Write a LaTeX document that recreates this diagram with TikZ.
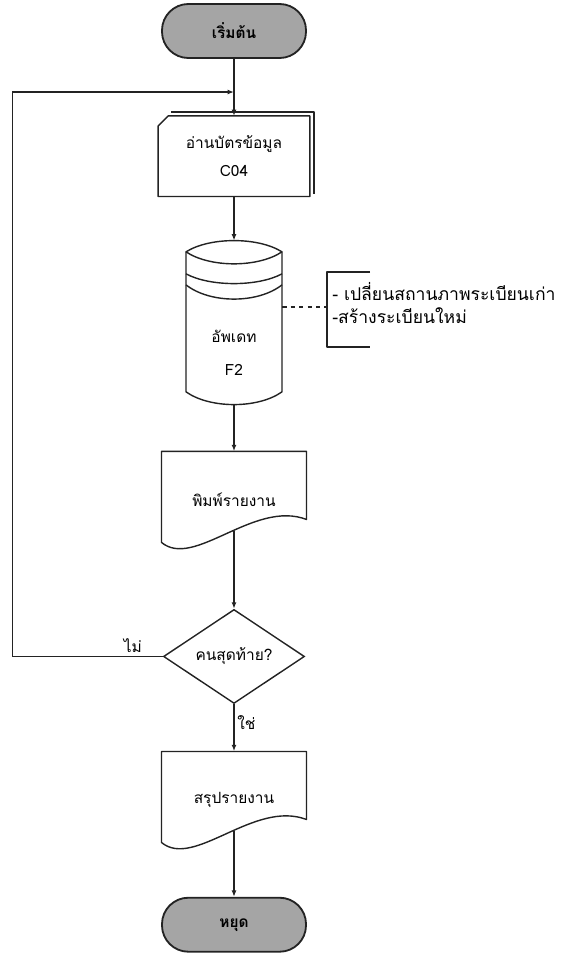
\documentclass[tikz,border=0pt]{standalone}
\usepackage{fontspec}
\setmainfont{Loma}[Script=Thai]
\usetikzlibrary{shapes.geometric, arrows.meta, positioning, calc}
\definecolor{Ink}{RGB}{35, 35, 35}
\definecolor{StoneGray}{RGB}{165, 165, 165}

\newcommand{\cardoutline}[1]{%
  \draw[outline] ($(#1.north west)+(10,0)$) -- (#1.north east) -- (#1.south east) -- (#1.south west) -- ($(#1.north west)+(0,10)$) -- cycle;
  \draw[outline] ($(#1.north west)+(13,-4)$) -- ($(#1.north east)+(4,-4)$) -- ($(#1.south east)+(4,-3)$);}
\newcommand{\drumoutline}[1]{%
  \draw[outline] ($(#1.center)+(-48,-71)$) .. controls ($(#1.center)+(-24,-86)$) and ($(#1.center)+(24,-86)$) .. ($(#1.center)+(48,-71)$)
    -- ($(#1.center)+(48,69)$) .. controls ($(#1.center)+(24,86)$) and ($(#1.center)+(-24,86)$) .. ($(#1.center)+(-48,69)$) -- cycle;
  \draw[outline] ($(#1.center)+(-48,-71)$) .. controls ($(#1.center)+(-24,-55)$) and ($(#1.center)+(24,-55)$) .. ($(#1.center)+(48,-71)$);
  \draw[outline] ($(#1.center)+(-48,-49)$) .. controls ($(#1.center)+(-24,-36)$) and ($(#1.center)+(24,-36)$) .. ($(#1.center)+(48,-49)$);
  \draw[outline] ($(#1.center)+(-48,-38)$) .. controls ($(#1.center)+(-24,-19)$) and ($(#1.center)+(24,-19)$) .. ($(#1.center)+(48,-38)$);}
\newcommand{\docoutline}[1]{%
  \draw[outline] ($(#1.center)+(-72.5,-48)$) -- ($(#1.center)+(72.5,-48)$) -- ($(#1.center)+(72.5,20)$)
    .. controls ($(#1.center)+(20,0)$) and ($(#1.center)+(-40,70)$) .. ($(#1.center)+(-72.5,43)$) -- cycle;
  \coordinate (#1-out) at ($(#1.center)+(0,32)$);}

\begin{document}
\begin{tikzpicture}[
    x=0.025cm, y=-0.025cm,
    font=\fontsize{11}{13}\selectfont,
    outline/.style={draw=Ink, line width=1pt, line join=round},
    term/.style={draw=Ink, line width=1.3pt, fill=StoneGray, rounded corners=0.66cm, minimum width=3.6cm, minimum height=1.35cm, font=\fontsize{11}{13}\selectfont\bfseries},
    cardbox/.style={minimum width=3.775cm, minimum height=2cm, align=center, inner sep=0pt},
    drumbox/.style={minimum width=2.4cm, minimum height=4.1cm, inner sep=0pt},
    docbox/.style={minimum width=3.625cm, minimum height=2.4cm, align=center, inner sep=0pt},
    decision/.style={diamond, draw=Ink, line width=1pt, aspect=1.5, minimum width=3.525cm, minimum height=2.35cm, inner sep=1pt},
    flow/.style={-{Latex[length=4.5pt, width=3.5pt]}, draw=Ink, line width=0.9pt},
    lbl/.style={inner sep=2pt}
]
    \useasboundingbox (0,0) rectangle (569,954);

    \node[term] (start) at (234,31) {เริ่มต้น};
    \node[cardbox, below=1.425cm of start] (card) {อ่านบัตรข้อมูล\\[7pt]C04};
    \cardoutline{card}
    \node[drumbox, below=1.1cm of card, label={[align=center, yshift=-0.75cm]center:อัพเดท\\[10pt]F2}] (upd) {};
    \drumoutline{upd}
    \node[docbox, below=1.15cm of upd] (prt) {พิมพ์รายงาน};
    \docoutline{prt}
    \node[decision, below=1.525cm of prt] (chk) {คนสุดท้าย?};
    \node[docbox, below=1.175cm of chk] (sum) {สรุปรายงาน};
    \docoutline{sum}
    \node[term, below=1.225cm of sum] (stop) {หยุด};

    \coordinate (join) at (234,92);
    \coordinate (back) at ($(chk.west)+(-150,0)$);
    \coordinate (brk) at (327,307);

    \draw[flow] (start) -- (card);
    \draw[flow] (card) -- (upd);
    \draw[flow] (upd) -- (prt);
    \draw[flow] (prt-out) -- (chk);
    \draw[flow] (chk) -- node[lbl, right, pos=0.4] {ใช่} (sum);
    \draw[flow] (sum-out) -- (stop);
    \draw[flow] (chk.west) -- node[lbl, above, pos=0.2] {ไม่} (back) |- (join);

    \draw[outline, dashed] (upd.east |- brk) -- (brk);
    \draw[outline] ($(brk)+(43,-35)$) -- ($(brk)+(0,-35)$) -- ($(brk)+(0,40)$) -- ($(brk)+(43,40)$);
    \node[anchor=west, align=left, inner sep=0pt, font=\fontsize{12.5}{14}\selectfont] (note) at ($(brk)+(5,-4)$) {- เปลี่ยนสถานภาพระเบียนเก่า\\[2pt]-สร้างระเบียนใหม่};
\end{tikzpicture}
\end{document}
